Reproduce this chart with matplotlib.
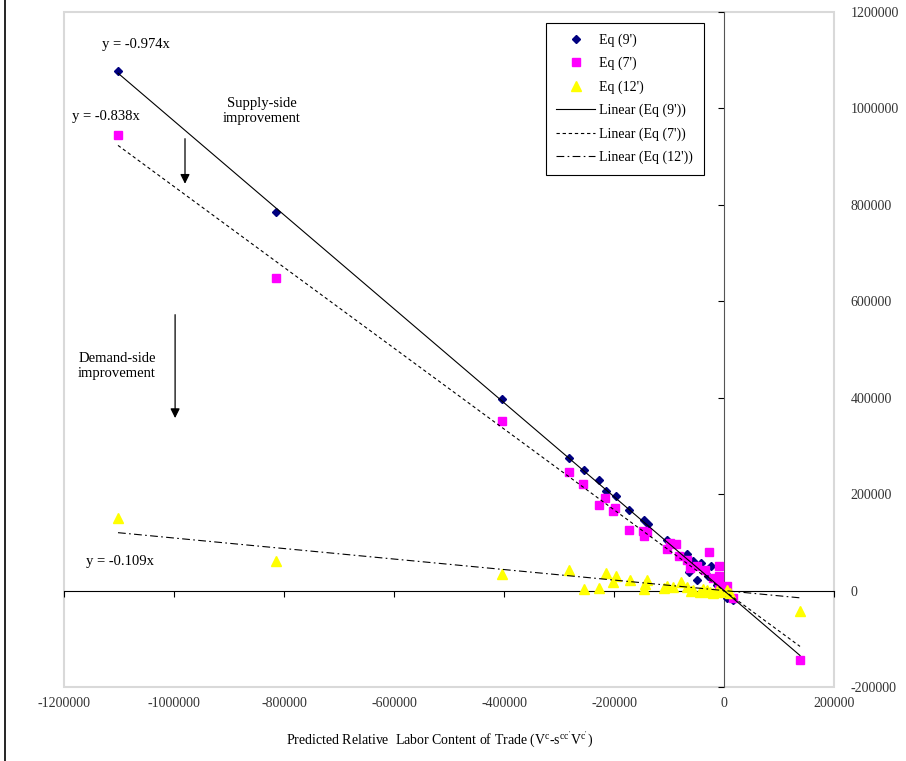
import numpy as np
import matplotlib
matplotlib.use("Agg")
import matplotlib.pyplot as plt
from matplotlib.patches import Rectangle
from matplotlib.lines import Line2D
from matplotlib.ticker import FuncFormatter

plt.rcParams['font.family'] = ['Liberation Serif', 'DejaVu Serif']
plt.rcParams['mathtext.fontset'] = 'custom'
plt.rcParams['mathtext.rm'] = 'Liberation Serif'

# --- data ---
eq9_x = [-1101800, -814500, -403600, -281300, -254500, -227800, -214500, -196400,
         -172100, -145500, -138200, -104200, -92200, -67900, -64200, -55800, -49600,
         -41200, -30000, -23000, -12000, -7300, 4800, 17000, 138200]
eq9_y = [1077700, 785500, 398000, 275000, 249300, 230000, 206600, 196900,
         167900, 145700, 138900, 104300, 97400, 75200, 37900, 61500, 22800,
         57400, 30000, 50400, 12000, -4800, -15200, -20000, -143000]

eq7_x = [-1101800, -814500, -403600, -282400, -255800, -227800, -215800, -202400,
         -197600, -173300, -147800, -145500, -139400, -104200, -98200, -87300,
         -82400, -67900, -61800, -49600, -34000, -27800, -20600, -9700, -8500,
         -8500, 4800, 17000, 138200]
eq7_y = [945000, 648700, 352000, 245300, 221800, 177600, 192700, 165200,
         172000, 125000, 123700, 112600, 120800, 86400, 98800, 96000,
         71100, 64200, 46200, 50400, 43500, 79400, 25500, 14500, 51800,
         29600, 8900, -16000, -143000]

eq12_x = [-1101800, -814500, -403600, -281300, -254500, -227800, -214500, -202400,
          -196400, -170900, -145500, -143100, -140600, -110000, -104200, -92200,
          -78800, -67900, -60000, -55800, -43600, -38000, -31500, -25000, -19400,
          -12000, -7300, 4800, 10900, 138200]
eq12_y = [151000, 62000, 35000, 42100, 3500, 4800, 36700, 17200,
          29600, 22800, 3500, 14500, 22800, 6000, 8900, 7600,
          17200, 7600, 0, 2100, -2100, 3000, 2100, -3000, -4800,
          0, -2100, 2100, -4800, -42100]

slope9, slope7, slope12 = -0.974, -0.838, -0.109
x_ticks = np.arange(-1200000, 200001, 200000)
y_ticks = np.arange(-200000, 1200001, 200000)

fig = plt.figure(figsize=(9.06, 7.61), dpi=100)
ax = fig.add_axes([64 / 906, 1 - 687 / 761, 770 / 906, 675 / 761])
ax.set_xlim(-1200000, 200000)
ax.set_ylim(-200000, 1200000)

# trend lines through the origin, spanning the data range
def trend(xs, b):
    xr = np.array([min(xs), max(xs)])
    return xr, b * xr

tx, ty = trend(eq9_x, slope9)
ax.plot(tx, ty, color='black', lw=0.8, label="Linear (Eq (9'))", zorder=6)
tx, ty = trend(eq7_x, slope7)
ax.plot(tx, ty, color='black', lw=0.8, ls=(0, (3, 2.5)), label="Linear (Eq (7'))", zorder=6)
tx, ty = trend(eq12_x, slope12)
ax.plot(tx, ty, color='black', lw=0.8, ls=(0, (7, 3, 1.5, 3)), label="Linear (Eq (12'))", zorder=6)

ax.plot(eq12_x, eq12_y, ls='none', marker='^', ms=6.5, color='#FFFF00', mec='#FFFF00',
        label="Eq (12')", zorder=5)
ax.plot(eq7_x, eq7_y, ls='none', marker='s', ms=6, color='#FF00FF', mec='#FF00FF',
        label="Eq (7')", zorder=4)
ax.plot(eq9_x, eq9_y, ls='none', marker='D', ms=4.5, color='#000080', mec='#000080',
        label="Eq (9')", zorder=3)

# axes crossing at zero
for s in ['top', 'right']:
    ax.spines[s].set_visible(False)
ax.spines['left'].set_position(('data', 0))
ax.spines['bottom'].set_position(('data', 0))
ax.spines['left'].set_color('#555555')
ax.spines['bottom'].set_color('black')
ax.set_xticks(x_ticks)
ax.set_yticks(y_ticks)
ax.tick_params(direction='out', length=4, width=0.8, labelleft=False, labelbottom=False)
ax.add_patch(Rectangle((0, 0), 1, 1, transform=ax.transAxes, fill=False,
                       edgecolor='#d9d9d9', lw=1.5, clip_on=False, zorder=0))

fmt = FuncFormatter(lambda v, p: '%d' % v)
secy = ax.secondary_yaxis('right')
secy.set_yticks(y_ticks)
secy.yaxis.set_major_formatter(fmt)
secy.spines['right'].set_visible(False)
secy.tick_params(length=0, pad=12, labelsize=10, labelcolor='#333333')
secx = ax.secondary_xaxis('bottom')
secx.set_xticks(x_ticks)
secx.xaxis.set_major_formatter(fmt)
secx.spines['bottom'].set_visible(False)
secx.tick_params(length=0, pad=7, labelsize=10, labelcolor='#333333')

fig.text(440 / 906, 1 - 740 / 761,
         r"Predicted Relative  Labor Content of Trade (V$^{\mathregular{c}}$-s$^{\mathregular{cc'}}$V$^{\mathregular{c'}}$)",
         ha='center', va='center', fontsize=10)

# annotations
ax.text(-1069000, 1133600, 'y = -0.974x', ha='center', va='center', fontsize=10.5)
ax.text(-1123600, 982400, 'y = -0.838x', ha='center', va='center', fontsize=10.5)
ax.text(-1098000, 60100, 'y = -0.109x', ha='center', va='center', fontsize=10.5)
ax.text(-840000, 995000, 'Supply-side\nimprovement', ha='center', va='center',
        fontsize=10.5, linespacing=1.15)
ax.text(-1103600, 466000, 'Demand-side\nimprovement', ha='center', va='center',
        fontsize=10.5, linespacing=1.15)
ax.annotate('', xy=(-980000, 838000), xytext=(-980000, 943000),
            arrowprops=dict(arrowstyle='-|>', color='black', lw=0.9, mutation_scale=14))
ax.annotate('', xy=(-998000, 352000), xytext=(-998000, 578000),
            arrowprops=dict(arrowstyle='-|>', color='black', lw=0.9, mutation_scale=14))

handles, labels = ax.get_legend_handles_labels()
order = [5, 4, 3, 0, 1, 2]
leg = ax.legend([handles[i] for i in order], [labels[i] for i in order],
                loc='upper left', bbox_to_anchor=(0.626, 0.984), fontsize=10,
                frameon=True, fancybox=False, edgecolor='black', framealpha=1,
                handlelength=2.8, handletextpad=0.3, labelspacing=0.72,
                borderpad=0.75, borderaxespad=0)
leg.get_frame().set_linewidth(0.8)

fig.add_artist(Line2D([5 / 906, 5 / 906], [0, 1], transform=fig.transFigure,
                      color='black', lw=1.2))

fig.savefig('out.png', dpi=100)
